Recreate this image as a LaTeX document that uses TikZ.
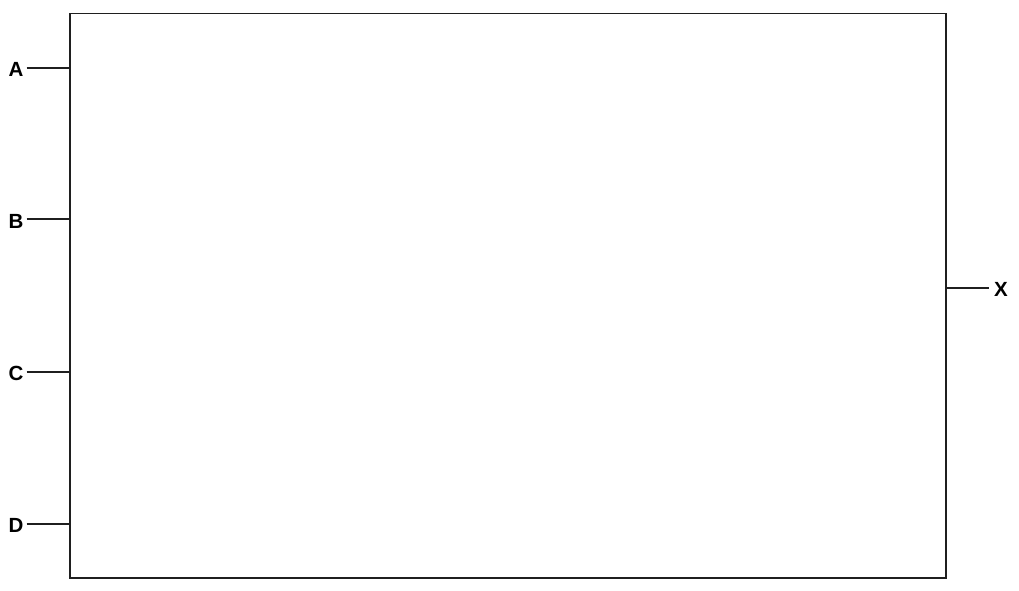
\documentclass[tikz,border=0pt]{standalone}
\usepackage{fontspec}
\setmainfont{Liberation Sans}
\usetikzlibrary{calc}
\begin{document}
\begin{tikzpicture}[x=1pt,y=-1pt,
  wire/.style={line width=1.9pt,draw=black!88},
  lbl/.style={font=\fontsize{20.5}{24}\selectfont\bfseries,inner sep=0pt}]
\useasboundingbox (0,0) rectangle (1019,591);
\draw[wire] (70,13.5) rectangle (946,578);
\node[lbl] (A) at (16,69.5) {A};
\node[lbl] (B) at (16,221) {B};
\node[lbl] (C) at (16,373) {C};
\node[lbl] (D) at (16,525) {D};
\node[lbl] (X) at (1001,289.5) {X};
\coordinate (pA) at (70,68);
\coordinate (pB) at (70,219);
\coordinate (pC) at (70,372);
\coordinate (pD) at (70,524);
\coordinate (pX) at (946,288);
\foreach \n in {A,B,C,D}{
  \draw[wire] ($(\n.east |- p\n)+(3,0)$) -- (p\n);
}
\draw[wire] (pX) -- ($(X.west |- pX)+(-5,0)$);
\end{tikzpicture}
\end{document}
